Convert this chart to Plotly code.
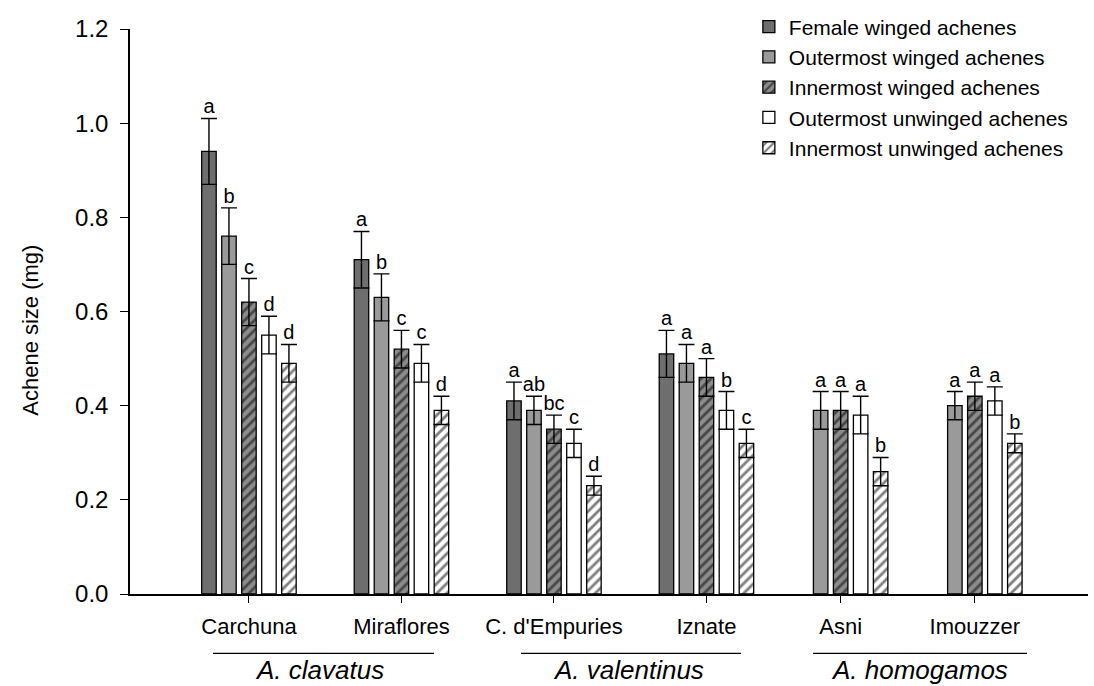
import plotly.graph_objects as go

# ---- data ----
sites = ["Carchuna", "Miraflores", "C. d'Empuries", "Iznate", "Asni", "Imouzzer"]
species = ["A. clavatus", "A. valentinus", "A. homogamos"]

series_names = ["Female winged achenes", "Outermost winged achenes",
                "Innermost winged achenes", "Outermost unwinged achenes",
                "Innermost unwinged achenes"]

female_winged = [0.94, 0.71, 0.41, 0.51, None, None]
female_winged_err = [0.07, 0.06, 0.04, 0.05, None, None]
outer_winged = [0.76, 0.63, 0.39, 0.49, 0.39, 0.40]
outer_winged_err = [0.06, 0.05, 0.03, 0.04, 0.04, 0.03]
inner_winged = [0.62, 0.52, 0.35, 0.46, 0.39, 0.42]
inner_winged_err = [0.05, 0.04, 0.03, 0.04, 0.04, 0.03]
outer_unwinged = [0.55, 0.49, 0.32, 0.39, 0.38, 0.41]
outer_unwinged_err = [0.04, 0.04, 0.03, 0.04, 0.04, 0.03]
inner_unwinged = [0.49, 0.39, 0.23, 0.32, 0.26, 0.32]
inner_unwinged_err = [0.04, 0.03, 0.02, 0.03, 0.03, 0.02]

letters_female_winged = ["a", "a", "a", "a", None, None]
letters_outer_winged = ["b", "b", "ab", "a", "a", "a"]
letters_inner_winged = ["c", "c", "bc", "a", "a", "a"]
letters_outer_unwinged = ["d", "c", "c", "b", "a", "a"]
letters_inner_unwinged = ["d", "d", "d", "c", "b", "b"]

y_ticks = [0.0, 0.2, 0.4, 0.6, 0.8, 1.0, 1.2]
y_title = "Achene size (mg)"

# ---- layout constants ----
group_centers = [0.0, 1.0, 2.0, 3.0, 3.88, 4.76]
species_spans = [(-0.236, 1.213), (1.784, 3.227), (3.699, 5.102)]
species_text_x = [0.46, 2.49, 4.40]
PITCH = 0.1311
BAR_W = 0.095
FONT = "Liberation Sans, Arial, sans-serif"

values = [female_winged, outer_winged, inner_winged, outer_unwinged, inner_unwinged]
errors = [female_winged_err, outer_winged_err, inner_winged_err,
          outer_unwinged_err, inner_unwinged_err]
letters = [letters_female_winged, letters_outer_winged, letters_inner_winged,
           letters_outer_unwinged, letters_inner_unwinged]
colors = ["#6e6e6e", "#9a9a9a", "#8c8c8c", "#ffffff", "#ffffff"]
patterns = ["", "", "/", "", "/"]

fig = go.Figure()
for i, name in enumerate(series_names):
    xs = [c + (i - 2) * PITCH for c in group_centers]
    fig.add_trace(go.Bar(
        x=xs, y=values[i], width=BAR_W, name=name,
        marker=dict(color=colors[i], line=dict(color="black", width=1.3),
                    pattern=dict(shape=patterns[i], fgcolor="black",
                                 bgcolor=colors[i], size=7, solidity=0.4)),
        error_y=dict(type="data", array=errors[i], visible=True,
                     color="black", thickness=1.4, width=8),
    ))
for i in range(5):
    xs = [c + (i - 2) * PITCH for c in group_centers]
    tops = [None if v is None else v + e for v, e in zip(values[i], errors[i])]
    fig.add_trace(go.Scatter(
        x=xs, y=tops, mode="text", text=letters[i], textposition="top center",
        textfont=dict(family=FONT, size=20, color="black"),
        showlegend=False, hoverinfo="skip", cliponaxis=False,
    ))

shapes = []
annotations = []
for (x0, x1), sx, sp in zip(species_spans, species_text_x, species):
    shapes.append(dict(type="line", xref="x", yref="paper", x0=x0, x1=x1,
                       y0=-0.105, y1=-0.105, line=dict(color="black", width=1.4)))
    annotations.append(dict(xref="x", yref="paper", x=sx, y=-0.134,
                            text=f"<i>{sp}</i>", showarrow=False,
                            font=dict(family=FONT, size=26, color="black"),
                            xanchor="center", yanchor="middle"))
annotations.append(dict(xref="paper", yref="paper", x=-0.1033, y=0.466,
                        text=y_title, textangle=-90, showarrow=False,
                        font=dict(family=FONT, size=22, color="black"),
                        xanchor="center", yanchor="middle"))

fig.update_layout(
    width=1094, height=686,
    margin=dict(l=130, r=6, t=23, b=92),
    plot_bgcolor="white", paper_bgcolor="white",
    barmode="overlay",
    font=dict(family=FONT, color="black"),
    showlegend=True,
    legend=dict(x=0.646, xanchor="left", y=1.04, yanchor="top",
                font=dict(family=FONT, size=21, color="black"),
                bgcolor="rgba(0,0,0,0)", tracegroupgap=0),
    shapes=shapes, annotations=annotations,
    xaxis=dict(range=[-0.78, 5.502], tickmode="array", tickvals=group_centers,
               ticktext=sites, ticks="outside", ticklen=7, tickwidth=1.4,
               tickcolor="black", showline=True, linecolor="black", linewidth=2,
               showgrid=False, zeroline=False, ticklabelstandoff=5,
               tickfont=dict(family=FONT, size=22, color="black")),
    yaxis=dict(range=[0, 1.2], tickmode="array", tickvals=y_ticks,
               tickformat=".1f", ticks="outside", ticklen=8, tickwidth=1.4,
               tickcolor="black", showline=True, linecolor="black", linewidth=1.5,
               showgrid=False, zeroline=False, ticklabelstandoff=7,
               tickfont=dict(family=FONT, size=24, color="black")),
)

fig.write_html("out.html",
               config={"displayModeBar": False},
               post_script="document.body.style.margin='0';"
                           "document.body.style.overflow='hidden';")
